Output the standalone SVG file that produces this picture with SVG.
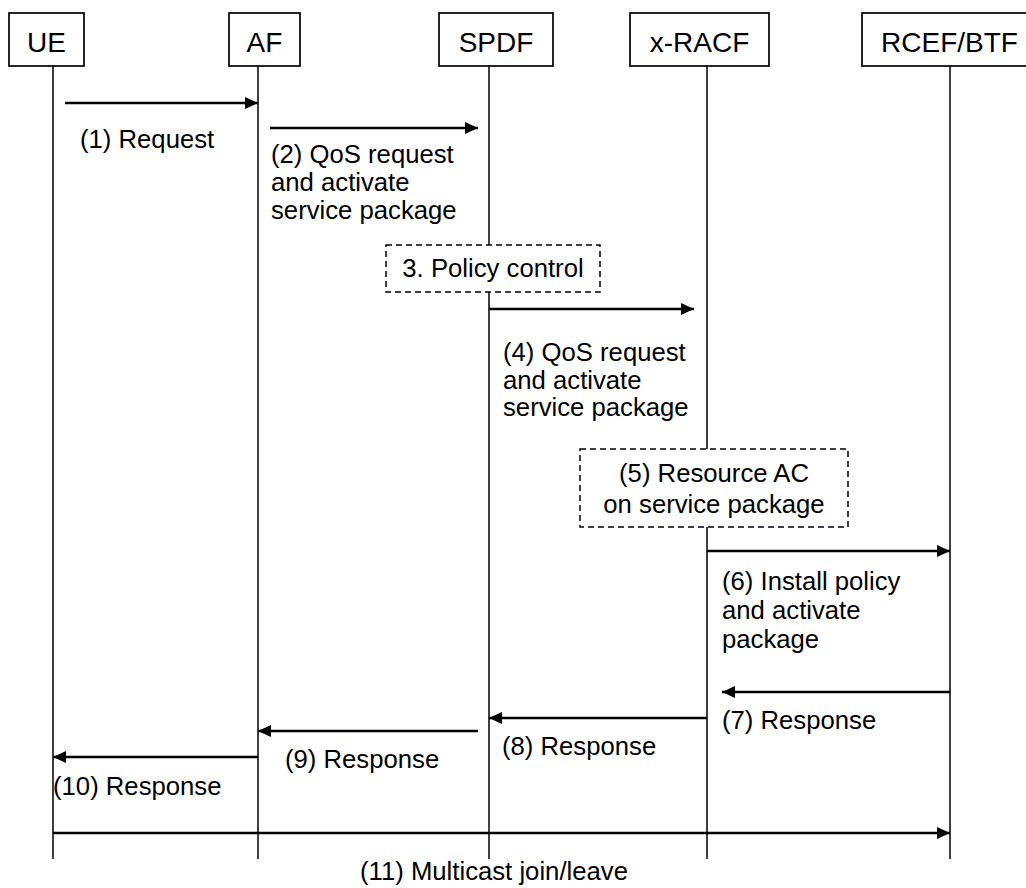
<svg xmlns="http://www.w3.org/2000/svg" width="1026" height="888" viewBox="0 0 1026 888">
<style>
.box{fill:#fff;stroke:#000;stroke-width:1.7}
.dash{fill:#fff;stroke:#000;stroke-width:1.5;stroke-dasharray:6 4}
.life{stroke:#000;stroke-width:1.5;fill:none}
.msg{stroke:#000;stroke-width:2.3;fill:none;marker-end:url(#ah)}
.t{font-family:"Liberation Sans",Arial,sans-serif;font-size:25.7px;fill:#000}
.h{font-family:"Liberation Sans",Arial,sans-serif;font-size:28px;fill:#000;text-anchor:middle}
.c{text-anchor:middle}
</style>
<defs>
<marker id="ah" markerUnits="userSpaceOnUse" markerWidth="14" markerHeight="13" refX="13" refY="6" orient="auto">
<path d="M0,0 L13,6 L0,12 z" fill="#000"/>
</marker>
</defs>
<g id="lifelines">
<line class="life" x1="53" y1="66" x2="53" y2="859"/>
<line class="life" x1="258" y1="66" x2="258" y2="859"/>
<line class="life" x1="489" y1="66" x2="489" y2="859"/>
<line class="life" x1="707" y1="66" x2="707" y2="859"/>
<line class="life" x1="950" y1="66" x2="950" y2="859"/>
</g>
<g id="UE"><rect class="box" x="9" y="13" width="75" height="53"/><text class="h" x="46.5" y="52">UE</text></g>
<g id="AF"><rect class="box" x="229" y="13" width="71" height="53"/><text class="h" x="264.5" y="52">AF</text></g>
<g id="SPDF"><rect class="box" x="439" y="13" width="114" height="53"/><text class="h" x="496" y="52">SPDF</text></g>
<g id="xRACF"><rect class="box" x="630" y="13" width="139" height="53"/><text class="h" x="699.5" y="52">x-RACF</text></g>
<g id="RCEF"><rect class="box" x="862" y="13" width="170" height="53"/><text class="h" x="949.5" y="52">RCEF/BTF</text></g>
<g id="policy"><rect class="dash" x="386" y="245" width="214" height="47"/><text class="t c" x="493" y="277">3. Policy control</text></g>
<g id="resource"><rect class="dash" x="580" y="449" width="268" height="78"/><text class="t c" x="714" y="482">(5) Resource AC</text><text class="t c" x="714" y="513">on service package</text></g>
<g id="connectors">
<line class="msg" x1="65" y1="103" x2="258" y2="103"/>
<line class="msg" x1="270" y1="128" x2="478" y2="128"/>
<line class="msg" x1="489" y1="309" x2="694" y2="309"/>
<line class="msg" x1="707" y1="551" x2="950" y2="551"/>
<line class="msg" x1="950" y1="692" x2="722" y2="692"/>
<line class="msg" x1="707" y1="718" x2="489" y2="718"/>
<line class="msg" x1="478" y1="731" x2="258" y2="731"/>
<line class="msg" x1="258" y1="757" x2="53" y2="757"/>
<line class="msg" x1="53" y1="833" x2="950" y2="833"/>
</g>
<g id="labels">
<text class="t" x="80" y="148">(1) Request</text>
<text class="t" x="271" y="163">(2) QoS request</text>
<text class="t" x="271" y="191">and activate</text>
<text class="t" x="271" y="219">service package</text>
<text class="t" x="503" y="361">(4) QoS request</text>
<text class="t" x="503" y="389">and activate</text>
<text class="t" x="503" y="416">service package</text>
<text class="t" x="722" y="590">(6) Install policy</text>
<text class="t" x="722" y="619">and activate</text>
<text class="t" x="722" y="648">package</text>
<text class="t" x="722" y="729">(7) Response</text>
<text class="t" x="502" y="755">(8) Response</text>
<text class="t" x="285" y="768">(9) Response</text>
<text class="t" x="53" y="795">(10) Response</text>
<text class="t" x="360" y="880">(11) Multicast join/leave</text>
</g>
</svg>
